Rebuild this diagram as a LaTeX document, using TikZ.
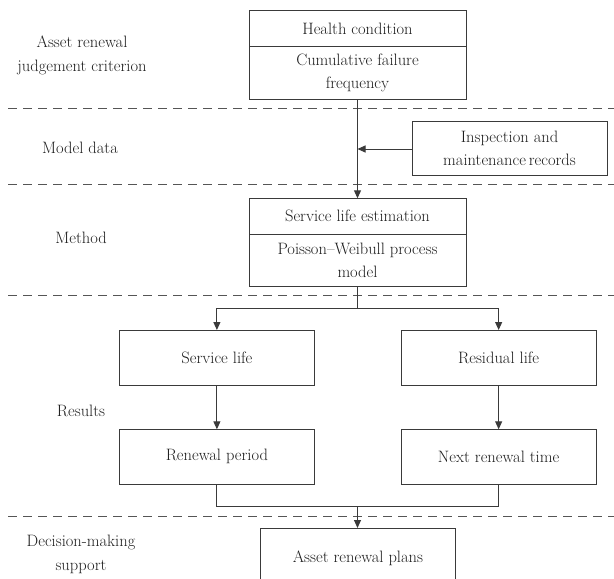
\documentclass[tikz,border=0pt]{standalone}
\usetikzlibrary{arrows.meta}
\definecolor{ln}{HTML}{3A3A3A}
\definecolor{tx}{HTML}{1E1E1E}
\definecolor{dsh}{HTML}{555555}
\begin{document}
\begin{tikzpicture}[x=1pt,y=-1pt,
  box/.style={draw=ln,line width=1pt,rectangle,inner sep=0pt,outer sep=0pt,align=center,text=tx,
    font=\fontsize{16.5}{23}\selectfont},
  lbl/.style={align=center,text=tx,font=\fontsize{16.5}{24}\selectfont},
  sep/.style={draw=dsh,line width=1pt,dash pattern=on 9pt off 6pt},
  conn/.style={draw=ln,line width=1pt},
  arr/.style={conn,-{Triangle[length=8pt,width=7pt]}}]
\useasboundingbox (0,0) rectangle (614,579);
\clip (0,0) rectangle (614,579);
% separators
\draw[sep] (8,108) -- (614,108);
\draw[sep] (8,184.3) -- (614,184.3);
\draw[sep] (8,295) -- (614,295);
\draw[sep] (8,516) -- (614,516);
% left labels
\node[lbl] (l1) at (82,55) {Asset renewal\\judgement criterion};
\node[lbl] (l2) at (80,148) {Model data};
\node[lbl] (l3) at (81,238) {Method};
\node[lbl] (l4) at (81,411) {Results};
\node[lbl] (l5) at (81,554) {Decision-making\\support};
% boxes
\node[box,minimum width=217pt,minimum height=36pt] (hc) at (357.5,28.7) {Health condition};
\node[box,minimum width=217pt,minimum height=52.3pt] (cff) at (357.5,72.85) {Cumulative failure\\frequency};
\node[box,minimum width=195pt,minimum height=54.7pt] (insp) at (509.5,148.35) {Inspection and\\maintenance\,records};
\node[box,minimum width=217pt,minimum height=35.7pt] (sle) at (357.5,216.15) {Service life estimation};
\node[box,minimum width=217pt,minimum height=52pt] (pwp) at (357.5,260.15) {Poisson--Weibull process\\model};
\node[box,minimum width=195pt,minimum height=55.3pt] (sl) at (216.9,357.65) {Service life};
\node[box,minimum width=195pt,minimum height=55.3pt] (rl) at (498.65,357.65) {Residual life};
\node[box,minimum width=195pt,minimum height=54.7pt] (rp) at (216.9,456.65) {Renewal period};
\node[box,minimum width=195pt,minimum height=54.7pt] (nrt) at (498.65,456.65) {Next renewal time};
\node[box,minimum width=195pt,minimum height=70pt] (arp) at (357.9,563) {};
\node[lbl] (arpt) at (357.9,558) {Asset renewal plans};
% connectors
\coordinate (j1) at (357.5,149);
\coordinate (b1) at (357.5,308.3);
\coordinate (b2) at (357.5,506.7);
\draw[arr] (insp.west |- j1) -- (j1);
\draw[arr] (cff.south) -- (sle.north);
\draw[conn] (pwp.south) -- (b1);
\draw[arr] (b1) -| (sl.north);
\draw[arr] (b1) -| (rl.north);
\draw[arr] (sl.south) -- (rp.north);
\draw[arr] (rl.south) -- (nrt.north);
\draw[conn] (rp.south) |- (b2) -| (nrt.south);
\draw[arr] (b2) -- (b2 |- arp.north);
\end{tikzpicture}
\end{document}
